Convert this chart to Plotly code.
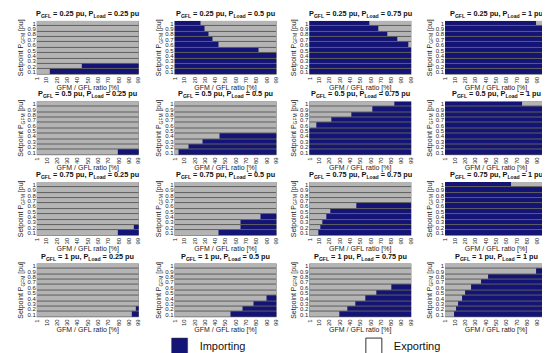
import plotly.graph_objects as go

# ---------------- data ----------------
ratios = list(range(1, 100))                      # GFM / GFL ratio [%]
setpoints = [0.1, 0.2, 0.3, 0.4, 0.5, 0.6, 0.7, 0.8, 0.9, 1.0]
setpoint_labels = ["0.1", "0.2", "0.3", "0.4", "0.5", "0.6", "0.7", "0.8", "0.9", "1"]
ratio_ticks = [1, 10, 20, 30, 40, 50, 60, 70, 80, 90, 99]
p_gfl_labels = ["0.25", "0.5", "0.75", "1"]
p_load_labels = ["0.25", "0.5", "0.75", "1"]

# Boundary ratio per setpoint row (0.1 ... 1).
# "right": importing for ratio >= value (100 = never importing)
# "left" : importing for ratio <  value (100 = always importing)
dir_gfl_025 = ["right", "left", "left", "left"]
thr_025_025 = [14, 45, 100, 100, 100, 100, 100, 100, 100, 100]
thr_025_050 = [100, 100, 100, 100, 82, 44, 38, 34, 30, 26]
thr_025_075 = [100, 100, 100, 100, 100, 97, 86, 77, 68, 59]
thr_025_100 = [100, 100, 100, 100, 100, 100, 100, 100, 100, 89]

dir_gfl_050 = ["right", "right", "right", "left"]
thr_050_025 = [80, 100, 100, 100, 100, 100, 100, 100, 100, 100]
thr_050_050 = [5, 15, 28, 45, 100, 100, 100, 100, 100, 100]
thr_050_075 = [1, 1, 1, 1, 1, 8, 22, 42, 62, 83]
thr_050_100 = [100, 100, 100, 100, 100, 100, 100, 100, 100, 76]

dir_gfl_075 = ["right", "right", "right", "left"]
thr_075_025 = [80, 95, 100, 100, 100, 100, 100, 100, 100, 100]
thr_075_050 = [44, 65, 65, 84, 100, 100, 100, 100, 100, 100]
thr_075_075 = [10, 12, 14, 17, 21, 47, 100, 100, 100, 100]
thr_075_100 = [100, 100, 100, 100, 100, 100, 100, 100, 100, 65]

dir_gfl_100 = ["right", "right", "right", "right"]
thr_100_025 = [93, 97, 100, 100, 100, 100, 100, 100, 100, 100]
thr_100_050 = [55, 67, 78, 90, 100, 100, 100, 100, 100, 100]
thr_100_075 = [30, 38, 46, 55, 66, 81, 100, 100, 100, 100]
thr_100_100 = [10, 12, 14, 17, 20, 26, 36, 43, 89, 100]

grid_dirs = [dir_gfl_025, dir_gfl_050, dir_gfl_075, dir_gfl_100]
grid_thr = [
    [thr_025_025, thr_025_050, thr_025_075, thr_025_100],
    [thr_050_025, thr_050_050, thr_050_075, thr_050_100],
    [thr_075_025, thr_075_050, thr_075_075, thr_075_100],
    [thr_100_025, thr_100_050, thr_100_075, thr_100_100],
]

# ---------------- style ----------------
W, H = 550, 353
NAVY = "rgb(20,20,118)"
GRAY = "rgb(180,180,180)"
FONT = "Liberation Sans, Arial, sans-serif"
col_left = [26, 165, 301, 438]
row_top = [13, 94, 175, 257]
pw, ph = 103, 54

fig = go.Figure()
annotations = []

for r in range(4):
    for c in range(4):
        idx = r * 4 + c + 1
        direction = grid_dirs[r][c]
        thr = grid_thr[r][c]
        z = []
        for i, sp in enumerate(setpoints):
            t = thr[i]
            if direction == "right":
                z.append([1 if x >= t else 0 for x in ratios])
            else:
                z.append([1 if x < t else 0 for x in ratios])
        xa = "x" if idx == 1 else f"x{idx}"
        ya = "y" if idx == 1 else f"y{idx}"
        fig.add_trace(go.Heatmap(
            x=ratios, y=setpoints, z=z, zmin=0, zmax=1,
            colorscale=[[0, GRAY], [1, NAVY]], showscale=False,
            ygap=1, hoverinfo="skip", xaxis=xa, yaxis=ya, showlegend=False,
        ))
        x0 = col_left[c] / W
        x1 = (col_left[c] + pw) / W
        y1 = 1 - row_top[r] / H
        y0 = 1 - (row_top[r] + ph) / H
        xkey = "xaxis" if idx == 1 else f"xaxis{idx}"
        ykey = "yaxis" if idx == 1 else f"yaxis{idx}"
        fig.layout[xkey] = dict(
            domain=[x0, x1], anchor=ya, range=[0.5, 99.5],
            tickvals=ratio_ticks, tickangle=-90,
            tickfont=dict(size=6, color="#222"), showgrid=False, zeroline=False,
            ticks="", ticklen=0,
            title=dict(text="GFM / GFL ratio [%]", font=dict(size=7, color="#222"), standoff=0),
        )
        fig.layout[ykey] = dict(
            domain=[y0, y1], anchor=xa, range=[0.05, 1.05],
            tickvals=setpoints, ticktext=setpoint_labels,
            tickfont=dict(size=6, color="#222"), showgrid=False, zeroline=False,
            ticks="", ticklen=0,
            title=dict(text="Setpoint P<sub>GFM</sub> [pu]", font=dict(size=7, color="#222"), standoff=2),
        )
        annotations.append(dict(
            x=(x0 + x1) / 2, y=y1, xref="paper", yref="paper",
            xanchor="center", yanchor="bottom", yshift=0, showarrow=False,
            text=f"<b>P<sub>GFL</sub> = {p_gfl_labels[r]} pu, P<sub>Load</sub> = {p_load_labels[c]} pu</b>",
            font=dict(size=7.3, color="#111"),
        ))

# legend entries (two separate legends to place them apart)
fig.add_trace(go.Scatter(x=[None], y=[None], mode="markers", name="Importing",
                         marker=dict(symbol="square", size=18, color=NAVY,
                                     line=dict(color="#333", width=0.5)),
                         legend="legend"))
fig.add_trace(go.Scatter(x=[None], y=[None], mode="markers", name="Exporting",
                         marker=dict(symbol="square", size=18, color="white",
                                     line=dict(color="#333", width=1)),
                         legend="legend2"))

leg_common = dict(orientation="h", xanchor="left", yanchor="middle",
                  font=dict(size=11, color="#111"), bgcolor="rgba(0,0,0,0)",
                  itemsizing="trace")
fig.update_layout(
    width=W, height=H, margin=dict(l=0, r=0, t=0, b=0),
    paper_bgcolor="white", plot_bgcolor="rgb(95,95,95)",
    font=dict(family=FONT, color="#111"),
    annotations=annotations,
    showlegend=True,
    legend=dict(x=150 / W, y=1 - 340 / H, **leg_common),
    legend2=dict(x=346 / W, y=1 - 340 / H, **leg_common),
)

fig.write_html("out.html")
